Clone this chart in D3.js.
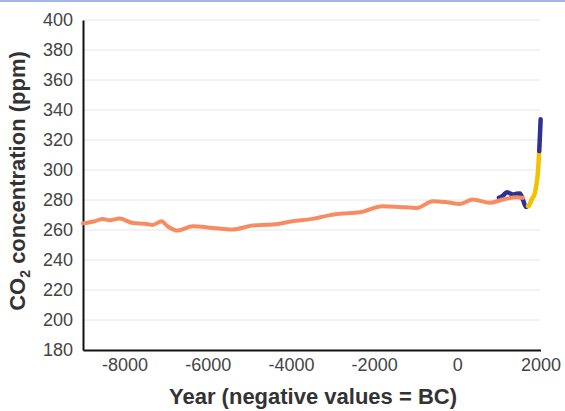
<!DOCTYPE html>
<html><head><meta charset="utf-8">
<script src="https://cdn.jsdelivr.net/npm/d3@7"></script>
<style>
html,body{margin:0;padding:0;background:#fff;}
svg text{font-family:"Liberation Sans",Arial,sans-serif;}
</style></head>
<body><svg id="c" width="565" height="411"></svg>
<script>
// Ice-core record (orange)
const orangeYears = [-9000,-8916,-8723,-8531,-8362,-8122,-7809,-7472,-7327,-7111,-6968,-6725,-6365,-5883,-5402,-4921,-4440,-3958,-3477,-3116,-2827,-2346,-1792,-1383,-974,-589,-252,60,373,782,1095,1432,1576];
const orangeValues = [264.5,264.7,265.8,267.4,266.5,267.6,264.7,264,263.4,265.8,262.5,259.6,262.5,261.4,260.3,263,263.6,265.8,267.4,269.6,270.8,271.8,275.9,275.4,274.7,279.2,278.5,277.4,280.3,278.1,280.3,281.9,281.4];
// Law Dome (blue)
const blueYears = [1000,1100,1190,1260,1335,1420,1504,1576,1649,1697];
const blueValues = [281.5,283,285.2,284.5,283.7,284.2,284.4,280.3,275.4,276];
// Siple (yellow)
const yellowYears = [1697,1721,1780,1865,1900,1937,1969];
const yellowValues = [276,276,280,284.7,290,298,312.6];
// Mauna Loa (blue)
const mlYears = [1969,1985,2003];
const mlValues = [312.6,322,333.8];

const yTicks = [180,200,220,240,260,280,300,320,340,360,380,400];
const xTicks = [-8000,-6000,-4000,-2000,0,2000];

const svg = d3.select("#c");
const L = 83, R = 540.5, T = 20, B = 350;
const x = d3.scaleLinear().domain([-9000,2000]).range([L,R]);
const y = d3.scaleLinear().domain([180,400]).range([B,T]);

// top border line
svg.append("line").attr("x1",0).attr("x2",565).attr("y1",1).attr("y2",1)
  .attr("stroke","#9fb7e2").attr("stroke-width",2);

// gridlines
svg.append("g").selectAll("line").data(yTicks.filter(d=>d>180)).join("line")
  .attr("x1",L).attr("x2",R).attr("y1",d=>y(d)).attr("y2",d=>y(d))
  .attr("stroke","#e6e6e6").attr("stroke-width",1);

// axes
const ya = svg.append("g").attr("transform",`translate(${L},0)`)
  .call(d3.axisLeft(y).tickValues(yTicks).tickSize(0).tickPadding(10).tickFormat(d=>String(d)));
const xa = svg.append("g").attr("transform",`translate(0,${B})`)
  .call(d3.axisBottom(x).tickValues(xTicks).tickSize(0).tickPadding(8).tickFormat(d=>String(d)));
[ya,xa].forEach(a=>{
  a.select(".domain").attr("stroke","#111").attr("stroke-width",2);
  a.selectAll("text").attr("font-size",18).attr("fill","#444")
   .attr("font-family","Liberation Sans, Arial, sans-serif");
});

const line = d3.line().x(d=>x(d[0])).y(d=>y(d[1])).curve(d3.curveMonotoneX);
function draw(xs,vs,color,w){
  svg.append("path").datum(xs.map((d,i)=>[d,vs[i]]))
    .attr("d",line).attr("fill","none").attr("stroke",color)
    .attr("stroke-width",w).attr("stroke-linejoin","round").attr("stroke-linecap","round");
}
draw(blueYears,blueValues,"#2d3192",4.5);
draw(orangeYears,orangeValues,"#f68d62",4);
draw(yellowYears,yellowValues,"#f2c100",4.5);
draw(mlYears,mlValues,"#2d3192",4.5);

// axis titles
svg.append("text").attr("x",313).attr("y",404).attr("text-anchor","middle")
  .attr("font-size",22).attr("font-weight","bold").attr("fill","#333")
  .text("Year (negative values = BC)");
const yt = svg.append("text").attr("transform","translate(25,181) rotate(-90)")
  .attr("text-anchor","middle").attr("font-size",22).attr("font-weight","bold").attr("fill","#333");
yt.append("tspan").text("CO");
yt.append("tspan").attr("font-size",14).attr("dy",5).text("2");
yt.append("tspan").attr("dy",-5).text(" concentration (ppm)");
</script></body></html>
